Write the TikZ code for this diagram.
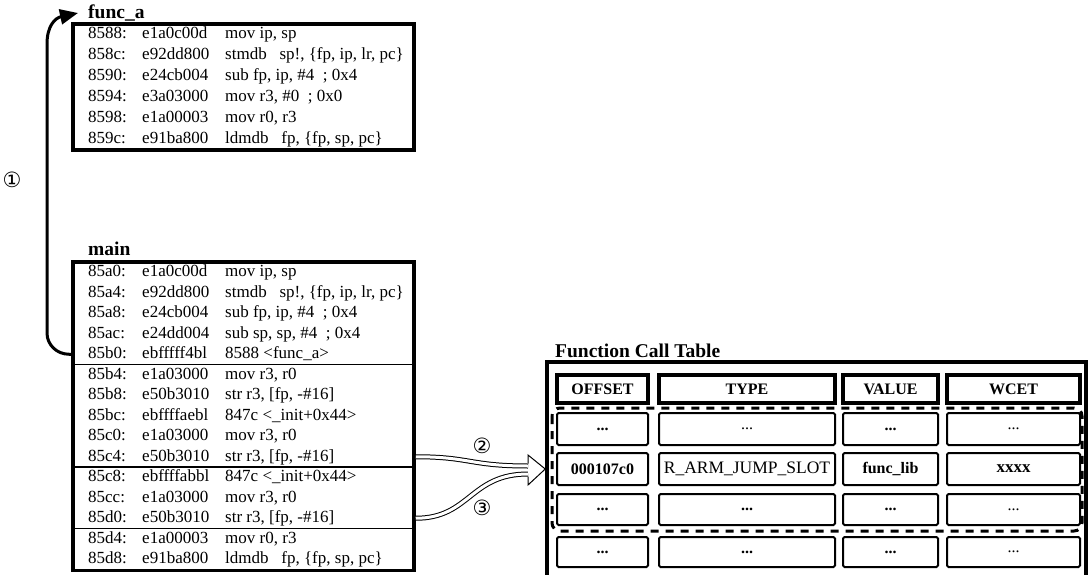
\documentclass[tikz,border=0pt]{standalone}
\usepackage{fontspec}
\setmainfont{Liberation Serif}
\newfontfamily\symfont{DejaVu Sans}
\usetikzlibrary{arrows.meta}
\newcommand\crow[5]{%
  \node[code] (#1a) at (88,#2) {#3};
  \node[code] (#1h) at (142,#2) {#4};
  \node[code] (#1i) at (225,#2) {#5};}
\begin{document}
\begin{tikzpicture}[x=1pt,y=-1pt,
  code/.style={anchor=west, inner sep=0pt, text height=11.5pt, text depth=3pt, font=\fontsize{17}{19}\selectfont},
  ttl/.style={anchor=base west, inner sep=0pt, font=\fontsize{19.5}{21}\selectfont\bfseries},
  codebox/.style={draw, line width=3.5pt, inner sep=0pt},
  sepline/.style={line width=1.2pt},
  hdr/.style={draw, line width=3.2pt, inner sep=0pt, minimum height=28pt, font=\fontsize{16}{18}\selectfont\bfseries},
  cell/.style={draw, line width=2pt, rounded corners=1.5pt, inner sep=0pt, font=\fontsize{16}{18}\selectfont},
  circ/.style={inner sep=0pt, font=\symfont\fontsize{21}{21}\selectfont},
  hollow/.style={double=white, double distance=3pt, line width=1pt}]
\useasboundingbox (0,0) rectangle (1089,575);
\clip (0,0) rectangle (1089,575);

% ---------- func_a ----------
\node[ttl] (ftitle) at (88,19) {func\_a};
\node[codebox, minimum width=341pt, minimum height=126pt] (fbox) at (243.5,87) {};
\crow{f0}{34.5}{8588:}{e1a0c00d}{mov ip, sp}
\crow{f1}{55.5}{858c:}{e92dd800}{stmdb\ \ \ sp!, \{fp, ip, lr, pc\}}
\crow{f2}{76.5}{8590:}{e24cb004}{sub fp, ip, \#4\ \ ; 0x4}
\crow{f3}{97.5}{8594:}{e3a03000}{mov r3, \#0\ \ ; 0x0}
\crow{f4}{118.5}{8598:}{e1a00003}{mov r0, r3}
\crow{f5}{139.5}{859c:}{e91ba800}{ldmdb\ \ \ fp, \{fp, sp, pc\}}

% ---------- main ----------
\node[ttl] (mtitle) at (88,255) {main};
\node[codebox, minimum width=341pt, minimum height=308.5pt] (mbox) at (243.5,416.25) {};
\crow{m0}{272.25}{85a0:}{e1a0c00d}{mov ip, sp}
\crow{m1}{292.75}{85a4:}{e92dd800}{stmdb\ \ \ sp!, \{fp, ip, lr, pc\}}
\crow{m2}{313.25}{85a8:}{e24cb004}{sub fp, ip, \#4\ \ ; 0x4}
\crow{m3}{333.75}{85ac:}{e24dd004}{sub sp, sp, \#4\ \ ; 0x4}
\crow{m4}{354.25}{85b0:}{ebfffff4bl}{8588 <func\_a>}
\crow{m5}{374.75}{85b4:}{e1a03000}{mov r3, r0}
\crow{m6}{395.25}{85b8:}{e50b3010}{str r3, [fp, -\#16]}
\crow{m7}{415.75}{85bc:}{ebffffaebl}{847c <\_init+0x44>}
\crow{m8}{436.25}{85c0:}{e1a03000}{mov r3, r0}
\crow{m9}{456.75}{85c4:}{e50b3010}{str r3, [fp, -\#16]}
\crow{m10}{477.25}{85c8:}{ebffffabbl}{847c <\_init+0x44>}
\crow{m11}{497.75}{85cc:}{e1a03000}{mov r3, r0}
\crow{m12}{518.25}{85d0:}{e50b3010}{str r3, [fp, -\#16]}
\crow{m13}{538.75}{85d4:}{e1a00003}{mov r0, r3}
\crow{m14}{559.25}{85d8:}{e91ba800}{ldmdb\ \ \ fp, \{fp, sp, pc\}}
\draw[sepline] (73,364.5) -- (414,364.5);
\draw[sepline] (73,467) -- (414,467);
\draw[sepline] (73,528.5) -- (414,528.5);

% ---------- call arrow 1 ----------
\coordinate (ftip) at (78,13);
\draw[line width=3pt, -{Triangle[length=18pt,width=15pt]}]
  (mbox.west |- m4a.center) -- (69,354.25) to[out=180,in=-90] (47,333)
  -- (47,44) .. controls (47,26) and (55,18) .. (ftip);
\node[circ] (c1) at (12,180) {①};

% ---------- function call table ----------
\node[ttl] (ttitle) at (555,357) {Function Call Table};
\node[draw, line width=3.5pt, inner sep=0pt, minimum width=539pt, minimum height=228pt] (tbl) at (816.5,476) {};
\draw[line width=3pt, dash pattern=on 8pt off 7pt, rounded corners=8pt] (552,408) rectangle (1082,531);

\node[hdr, minimum width=91pt] (ho) at (602.5,389) {OFFSET};
\node[hdr, minimum width=176pt] (ht) at (747,389) {TYPE};
\node[hdr, minimum width=95pt] (hv) at (890.5,389) {VALUE};
\node[hdr, minimum width=133pt] (hw) at (1013.5,389) {WCET};

\node[cell, minimum width=91pt, minimum height=32pt] (r1o) at (602.5,429) {\textbf{...}};
\node[cell, minimum width=176pt, minimum height=32pt] (r1t) at (747,429) {...};
\node[cell, minimum width=95pt, minimum height=32pt] (r1v) at (890.5,429) {\textbf{...}};
\node[cell, minimum width=133pt, minimum height=32pt] (r1w) at (1013.5,429) {...};

\node[cell, minimum width=91pt, minimum height=32pt] (r2o) at (602.5,469) {\textbf{000107c0}};
\node[cell, minimum width=176pt, minimum height=32pt, font=\fontsize{17.5}{19}\selectfont] (r2t) at (747,469) {R\_ARM\_JUMP\_SLOT};
\node[cell, minimum width=95pt, minimum height=32pt] (r2v) at (890.5,469) {\textbf{func\_lib}};
\node[cell, minimum width=133pt, minimum height=32pt, font=\fontsize{17}{19}\selectfont\bfseries] (r2w) at (1013.5,469) {xxxx};

\node[cell, minimum width=91pt, minimum height=31pt] (r3o) at (602.5,509.5) {\textbf{...}};
\node[cell, minimum width=176pt, minimum height=31pt] (r3t) at (747,509.5) {\textbf{...}};
\node[cell, minimum width=95pt, minimum height=31pt] (r3v) at (890.5,509.5) {\textbf{...}};
\node[cell, minimum width=133pt, minimum height=31pt] (r3w) at (1013.5,509.5) {...};

\node[cell, minimum width=91pt, minimum height=30pt] (r4o) at (602.5,552) {\textbf{...}};
\node[cell, minimum width=176pt, minimum height=30pt] (r4t) at (747,552) {\textbf{...}};
\node[cell, minimum width=95pt, minimum height=30pt] (r4v) at (890.5,552) {\textbf{...}};
\node[cell, minimum width=133pt, minimum height=30pt] (r4w) at (1013.5,552) {...};

% ---------- lookup arrows 2 and 3 ----------
\coordinate (tip) at (tbl.west |- r2o.center);
\coordinate (in2) at (528,466);
\coordinate (in3) at (528,474);
\draw[hollow] (mbox.east |- m9a.center) .. controls (470,456.75) and (470,466) .. (in2);
\draw[hollow] (mbox.east |- m12a.center) .. controls (470,518.25) and (470,474) .. (in3);
\draw[line width=1pt, line join=miter] (528,463.5) -- (528,455) -- (tip) -- (528,485) -- (528,476.5);
\node[circ] (c2) at (482,446) {②};
\node[circ] (c3) at (482,508) {③};
\end{tikzpicture}
\end{document}
